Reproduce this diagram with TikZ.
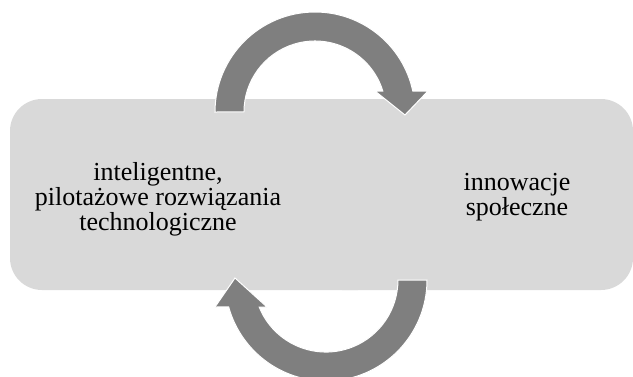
\documentclass[tikz,border=0pt]{standalone}
\usepackage{fontspec}
\setmainfont{Liberation Serif}
\usetikzlibrary{calc,positioning}
\definecolor{panelgray}{RGB}{217,217,217}
\definecolor{arrowgray}{RGB}{127,127,127}

\begin{document}
\begin{tikzpicture}[x=1pt,y=1pt,
    panel/.style={fill=panelgray,rounded corners=32pt,inner sep=0pt,minimum height=191pt},
    label/.style={align=center,font=\fontsize{26}{25}\selectfont,inner sep=0pt},
    looparrow/.style={fill=arrowgray,draw=white,line width=1pt,line join=miter}]
    \useasboundingbox (0,0) rectangle (633,376);

    % the two panels, drawn as one band
    \node [panel,minimum width=380pt] (tech) at (200,181.5) {};
    \node [panel,minimum width=323pt] (social) at (471.5,181.5) {};

    \node [label] (techtext) at (158,177) {inteligentne,\\pilotażowe rozwiązania\\technologiczne};
    \node [label] (socialtext) at (517,179) {innowacje\\społeczne};

    \coordinate (uppivot) at (315,264);
    \coordinate (lowpivot) at (326,96);

    % upper arrow, left to right
    \begin{scope}[shift={(uppivot)}]
      \path [looparrow] (-100,0) arc [start angle=180,end angle=12,radius=100]
        -- (113,21) -- (90,-3) -- (60,21) -- (67.8,21)
        arc [start angle=17.2,end angle=180,radius=71] -- cycle;
    \end{scope}

    % lower arrow, right to left
    \begin{scope}[shift={(lowpivot)}]
      \path [looparrow] (101,0) arc [start angle=0,end angle=-164.5,radius=101]
        -- (-111,-27) -- (-91,2) -- (-59,-27) -- (-66.8,-27)
        arc [start angle=-158,end angle=0,radius=72] -- cycle;
    \end{scope}
\end{tikzpicture}
\end{document}
